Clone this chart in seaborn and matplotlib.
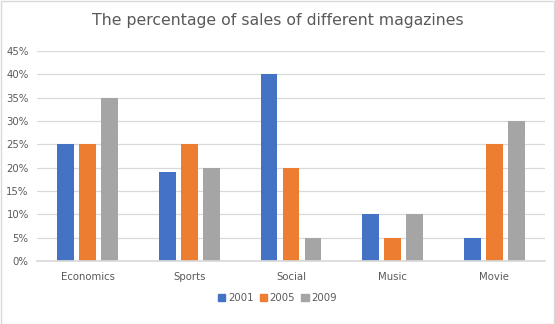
import matplotlib
matplotlib.use("Agg")
import matplotlib.pyplot as plt
import seaborn as sns
import pandas as pd
from matplotlib.patches import Rectangle
from matplotlib.ticker import FuncFormatter, MultipleLocator

categories = ["Economics", "Sports", "Social", "Music", "Movie"]
years = ["2001", "2005", "2009"]
sales_2001 = [25, 19, 40, 10, 5]
sales_2005 = [25, 25, 20, 5, 25]
sales_2009 = [35, 20, 5, 10, 30]
colors = ["#4472C4", "#ED7D31", "#A5A5A5"]

df = pd.DataFrame({
    "Magazine": categories * 3,
    "Year": [y for y in years for _ in categories],
    "Share": sales_2001 + sales_2005 + sales_2009,
})

sns.set_theme(style="white")
plt.rcParams["font.family"] = ["DejaVu Sans"]

fig = plt.figure(figsize=(5.55, 3.24), dpi=100)
ax = fig.add_axes([37 / 555, 1 - 261 / 324, 508 / 555, 210 / 324])

sns.barplot(data=df, x="Magazine", y="Share", hue="Year", palette=colors,
            width=0.65, gap=0.23, saturation=1, linewidth=0, ax=ax, legend=False)

ax.set_ylim(0, 45)
ax.yaxis.set_major_locator(MultipleLocator(5))
ax.yaxis.set_major_formatter(FuncFormatter(lambda v, _: f"{int(v)}%"))
ax.grid(axis="y", color="#D9D9D9", linewidth=0.9)
ax.set_axisbelow(True)
for s in ["top", "right", "left"]:
    ax.spines[s].set_visible(False)
ax.spines["bottom"].set_color("#D9D9D9")
ax.set_xlabel("")
ax.set_ylabel("")
ax.tick_params(axis="both", length=0, labelsize=7.3, colors="#595959")
ax.tick_params(axis="x", pad=8)
ax.tick_params(axis="y", pad=6)

fig.suptitle("The percentage of sales of different magazines", x=0.5,
             y=1 - 20 / 324, va="center", fontsize=11.3, color="#595959")

handles = [Rectangle((0, 0), 1, 1, color=c) for c in colors]
fig.legend(handles, years, loc="center", bbox_to_anchor=(0.5, 1 - 298 / 324),
           ncol=3, frameon=False, fontsize=7.3, labelcolor="#595959",
           handlelength=0.7, handleheight=0.7, handletextpad=0.3,
           columnspacing=0.6)

fig.patches.append(Rectangle((0.001, 0.001), 0.997, 0.997, transform=fig.transFigure,
                             fill=False, edgecolor="#D9D9D9", linewidth=1))

fig.savefig("out.png", dpi=100, facecolor="white")
